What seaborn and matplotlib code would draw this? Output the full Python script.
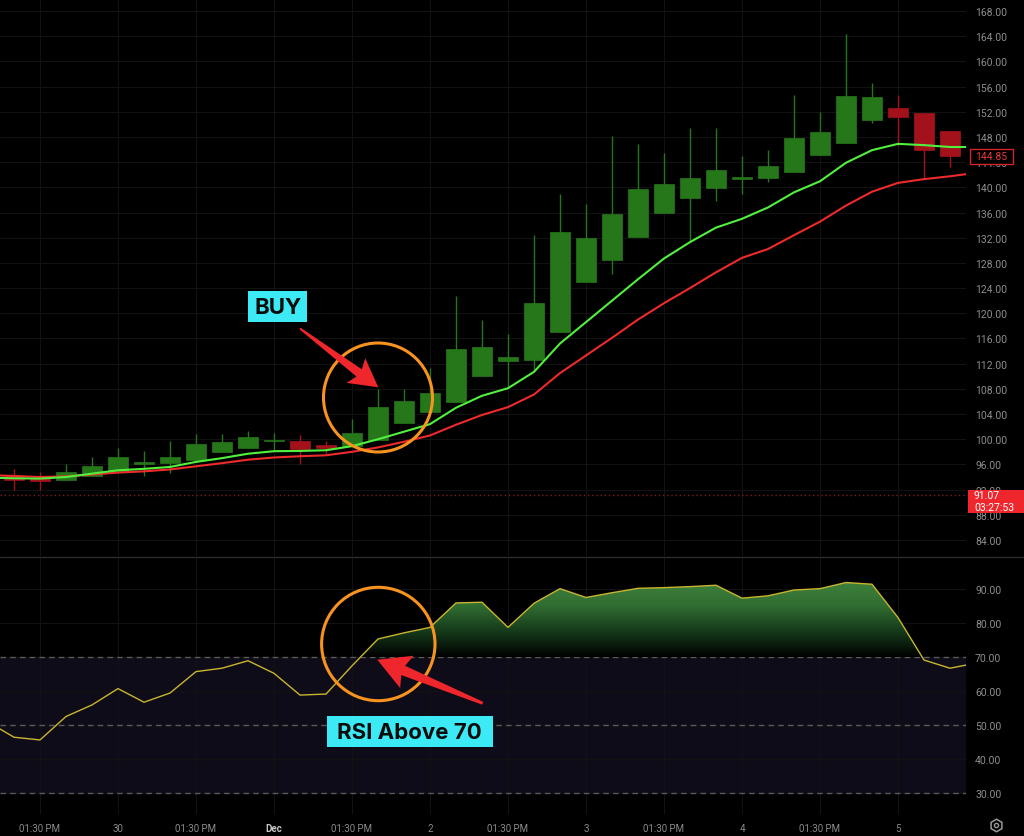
import numpy as np
import pandas as pd
import matplotlib
matplotlib.use("Agg")
import matplotlib.pyplot as plt
import seaborn as sns
from matplotlib.patches import Polygon, Ellipse, Rectangle
from matplotlib.path import Path
from matplotlib.lines import Line2D
from matplotlib.colors import LinearSegmentedColormap

# ---------------- data ----------------
opens  = [94.2, 93.85, 93.5, 94.2, 94.9, 96.1, 96.2, 96.7, 97.9, 98.66, 99.65, 99.68, 99.1,
          98.98, 99.9, 102.5, 104.3, 105.9, 110.0, 112.4, 112.6, 117.1, 125.0, 128.5, 132.1,
          135.9, 138.26, 139.9, 141.35, 141.4, 142.4, 145.1, 147.0, 150.7, 152.6, 151.8, 148.9]
highs  = [95.3, 94.75, 96.07, 97.2, 98.66, 98.1, 99.7, 100.8, 100.8, 101.3, 101.0, 100.7, 99.7,
          103.27, 108.0, 108.0, 111.3, 122.7, 118.9, 116.7, 132.4, 138.9, 137.3, 148.1, 146.9,
          145.45, 149.4, 149.4, 144.9, 145.9, 154.7, 151.9, 164.35, 156.5, 154.7, 151.8, 148.9]
lows   = [92.0, 91.95, 93.5, 94.2, 94.9, 94.2, 94.7, 96.7, 97.9, 98.66, 98.1, 96.07, 97.5,
          98.98, 99.9, 102.5, 104.3, 105.9, 110.0, 108.2, 111.05, 117.1, 125.0, 126.2, 132.1,
          135.9, 131.4, 137.9, 139.0, 140.85, 142.4, 145.1, 147.0, 150.2, 146.5, 141.5, 143.2]
closes = [93.5, 93.3, 94.8, 95.75, 97.13, 96.3, 97.13, 99.2, 99.5, 100.36, 99.75, 98.5, 98.6,
          101.0, 105.17, 106.07, 107.3, 114.3, 114.65, 113.0, 121.6, 132.9, 132.0, 135.7, 139.8,
          140.6, 141.5, 142.7, 141.45, 143.4, 147.8, 148.8, 154.5, 154.3, 151.1, 146.0, 144.9]

# moving averages and RSI (index -1 .. 37)
ema_fast = [93.9, 93.8, 93.75, 94.0, 94.54, 95.07, 95.3, 95.6, 96.4, 97.0, 97.7, 98.1, 98.14,
            98.25, 98.9, 100.0, 101.2, 102.4, 105.0, 106.9, 108.1, 110.7, 115.2, 118.6, 122.0,
            125.4, 128.7, 131.3, 133.6, 135.0, 136.8, 139.2, 140.96, 143.9, 145.9, 146.9, 146.7,
            146.4, 146.4]
ema_slow = [94.3, 94.17, 94.0, 94.1, 94.4, 94.7, 94.9, 95.2, 95.7, 96.2, 96.75, 97.1, 97.3,
            97.45, 98.0, 98.7, 99.6, 100.6, 102.3, 103.85, 105.1, 107.1, 110.5, 113.3, 116.1,
            119.0, 121.6, 124.0, 126.5, 128.8, 130.2, 132.4, 134.55, 137.1, 139.3, 140.7, 141.3,
            141.75, 142.3]
rsi = [50.9, 46.4, 45.6, 52.5, 55.9, 60.7, 56.7, 59.4, 65.7, 66.7, 68.9, 65.2, 58.8, 59.1,
       67.4, 75.3, 77.1, 78.7, 85.9, 86.1, 78.7, 85.8, 90.1, 87.5, 88.9, 90.2, 90.4, 90.7, 91.1,
       87.3, 88.0, 89.7, 90.1, 91.9, 91.4, 81.6, 69.1, 66.7, 68.2]

tick_pos = [1, 4, 7, 10, 13, 16, 19, 22, 25, 28, 31, 34]
tick_labels = ["01:30 PM", "30", "01:30 PM", "Dec", "01:30 PM", "2",
               "01:30 PM", "3", "01:30 PM", "4", "01:30 PM", "5"]
price_ticks = list(range(84, 169, 4))
rsi_ticks = [30, 40, 50, 60, 70, 80, 90]
last_price = 91.07
last_time = "03:27:53"
close_label = "144.85"

# ---------------- style ----------------
sns.set_theme(style="dark", rc={"axes.facecolor": "black", "figure.facecolor": "black"})
plt.rcParams['font.family'] = ['Roboto', 'DejaVu Sans']

W, H = 1024, 837
fig = plt.figure(figsize=(W / 100, H / 100), dpi=100, facecolor='black')

def fx(x): return x / W
def fy(y): return 1 - y / H

ax = fig.add_axes([0, fy(557), fx(966), 557 / H])
ax2 = fig.add_axes([0, fy(815), fx(966), (815 - 558) / H])

XMIN, XMAX = -0.5385, 36.615
GREEN_BODY, RED_BODY = "#26761a", "#a3121a"
GRID = "#121212"

# ---------------- price pane ----------------
df = pd.DataFrame({"o": opens, "h": highs, "l": lows, "c": closes})
df["i"] = np.arange(len(df))
up = df["c"] >= df["o"]
colors = np.where(up, GREEN_BODY, RED_BODY)
body_lo = np.minimum(df["o"], df["c"])
body_h = np.maximum(np.abs(df["c"] - df["o"]), 0.22)
ax.vlines(df["i"], df["l"], df["h"], colors=colors, lw=1.0, zorder=2)
ax.bar(df["i"], body_h, bottom=body_lo, width=0.8, color=colors, edgecolor=colors, lw=0.5, zorder=3)

idx_line = np.arange(-1, len(ema_fast) - 1)
sns.lineplot(x=idx_line, y=ema_slow, ax=ax, color="#ee2a2a", lw=1.5, zorder=4, sort=False, estimator=None)
sns.lineplot(x=idx_line, y=ema_fast, ax=ax, color="#52f03e", lw=1.5, zorder=5, sort=False, estimator=None)

ax.axhline(last_price, color="#7d1c1f", ls=(0, (1, 2)), lw=1.0, zorder=1)

ax.set_xlim(XMIN, XMAX)
ax.set_ylim(81.46, 169.9)
ax.set_yticks(price_ticks)
ax.set_yticklabels([f"{v:.2f}" for v in price_ticks])
ax.yaxis.tick_right()
ax.set_xticks(tick_pos)
ax.set_xticklabels([])
ax.tick_params(axis='both', length=0)
ax.tick_params(axis='y', pad=6.5, labelsize=7.5, labelcolor="#8e8e8e")
ax.grid(True, color=GRID, lw=0.8)
ax.set_axisbelow(True)
for s in ax.spines.values():
    s.set_visible(False)
ax.set_xlabel("")
ax.set_ylabel("")

# ---------------- RSI pane ----------------
x_r = np.arange(-1, len(rsi) - 1).astype(float)
r = np.array(rsi)
ax2.axhspan(30, 70, color="#0f0c19", zorder=0.2, lw=0)
for lvl in (30, 50, 70):
    ax2.axhline(lvl, color="#5a5a5a", ls=(0, (4, 3)), lw=1.0, zorder=0.8)

poly = ax2.fill_between(x_r, 70, r, where=r >= 70, interpolate=True, color="none", lw=0)
cp = Path.make_compound_path(*poly.get_paths())
cmap = LinearSegmentedColormap.from_list("g", ["#000000", "#163a1b", "#306d31", "#40823d"])
grad = np.linspace(0, 1, 256).reshape(-1, 1)
im = ax2.imshow(grad, extent=[XMIN, XMAX, 70, 92.5], origin="lower", cmap=cmap,
                aspect="auto", zorder=1, interpolation="bilinear")
im.set_clip_path(cp, transform=ax2.transData)

sns.lineplot(x=x_r, y=r, ax=ax2, color="#c9b52e", lw=1.0, zorder=3, sort=False, estimator=None)

ax2.set_xlim(XMIN, XMAX)
ax2.set_ylim(23.82, 99.41)
ax2.set_yticks(rsi_ticks)
ax2.set_yticklabels([f"{v:.2f}" for v in rsi_ticks])
ax2.yaxis.tick_right()
ax2.set_xticks(tick_pos)
ax2.set_xticklabels(tick_labels)
ax2.tick_params(axis='both', length=0)
ax2.tick_params(axis='y', pad=6.5, labelsize=7.5, labelcolor="#8e8e8e")
ax2.tick_params(axis='x', pad=6.5, labelsize=7, labelcolor="#8a8a8a")
for lab in ax2.get_xticklabels():
    if lab.get_text() == "Dec":
        lab.set_fontweight("bold")
        lab.set_color("#c4c4c4")
ax2.grid(True, color=GRID, lw=0.8)
ax2.set_axisbelow(True)
for s in ax2.spines.values():
    s.set_visible(False)
ax2.set_xlabel("")
ax2.set_ylabel("")

# ---------------- pane separator & right-side labels ----------------
fig.add_artist(Line2D([0, 1], [fy(557.5)] * 2, transform=fig.transFigure, color="#2a2a2a", lw=1))

fig.add_artist(Rectangle((fx(969.5), fy(164.5)), fx(1013) - fx(969.5), fy(150) - fy(164.5),
                         transform=fig.transFigure, fc="black", ec="#d0262b", lw=1, zorder=10))
fig.text(fx(991.2), fy(157.5), close_label, color="#e8393a", fontsize=7.5, ha="center", va="center", zorder=11)

fig.add_artist(Rectangle((fx(967.5), fy(513.5)), fx(1023.5) - fx(967.5), fy(490.5) - fy(513.5),
                         transform=fig.transFigure, fc="#f0262d", ec="none", zorder=10))
fig.text(fx(974), fy(496.5), f"{last_price:.2f}", color="white", fontsize=7.5, ha="left", va="center", zorder=11)
fig.text(fx(974), fy(508), last_time, color="white", fontsize=7.5, ha="left", va="center", zorder=11)

# settings icon
fig.add_artist(Line2D([fx(996)], [fy(826)], transform=fig.transFigure, marker="h", ms=9,
                      mfc="none", mec="#9a9a9a", mew=1.1))
fig.add_artist(Line2D([fx(996)], [fy(826)], transform=fig.transFigure, marker="o", ms=3,
                      mfc="none", mec="#9a9a9a", mew=1.0))

# ---------------- annotations ----------------
ORANGE = "#f7931e"
ARROW_RED = "#f0262d"
CYAN = "#3beaf4"

def circle(cx, cy, rad):
    fig.add_artist(Ellipse((fx(cx), fy(cy)), 2 * rad / W, 2 * rad / H, transform=fig.transFigure,
                           fill=False, ec=ORANGE, lw=2.2, zorder=20))

def arrow(tail, tip, tail_w, shaft_w, head_len, head_w):
    t = np.array(tail, float); p = np.array(tip, float)
    d = p - t; u = d / np.hypot(*d); n = np.array([-u[1], u[0]])
    base = p - u * head_len
    back = base - u * 4
    pts = [t + n * tail_w / 2, base + n * shaft_w / 2, back + n * head_w / 2, p,
           back - n * head_w / 2, base - n * shaft_w / 2, t - n * tail_w / 2]
    fig.add_artist(Polygon([(fx(x), fy(y)) for x, y in pts], closed=True, transform=fig.transFigure,
                           fc=ARROW_RED, ec="none", zorder=21))

def label(x0, y0, x1, y1, text):
    fig.add_artist(Rectangle((fx(x0), fy(y1)), fx(x1) - fx(x0), fy(y0) - fy(y1),
                             transform=fig.transFigure, fc=CYAN, ec="none", zorder=22))
    fig.text(fx((x0 + x1) / 2), fy((y0 + y1) / 2 + 0.5), text, color="#0b0b0b", fontsize=16,
             fontweight="bold", ha="center", va="center", zorder=23,
             family=["Inter", "Roboto", "DejaVu Sans"])

circle(378, 398.5, 54.5)
circle(378.3, 645, 56.7)
arrow((300, 329.5), (378.3, 388.3), 2, 9, 24, 31)
arrow((482.7, 704.3), (377.3, 660.7), 3, 10, 28, 35)
label(248.3, 291.7, 307.3, 322.7, "BUY")
label(326.7, 716.7, 492.7, 747.7, "RSI Above 70")

fig.savefig("out.png", dpi=100, facecolor="black")
